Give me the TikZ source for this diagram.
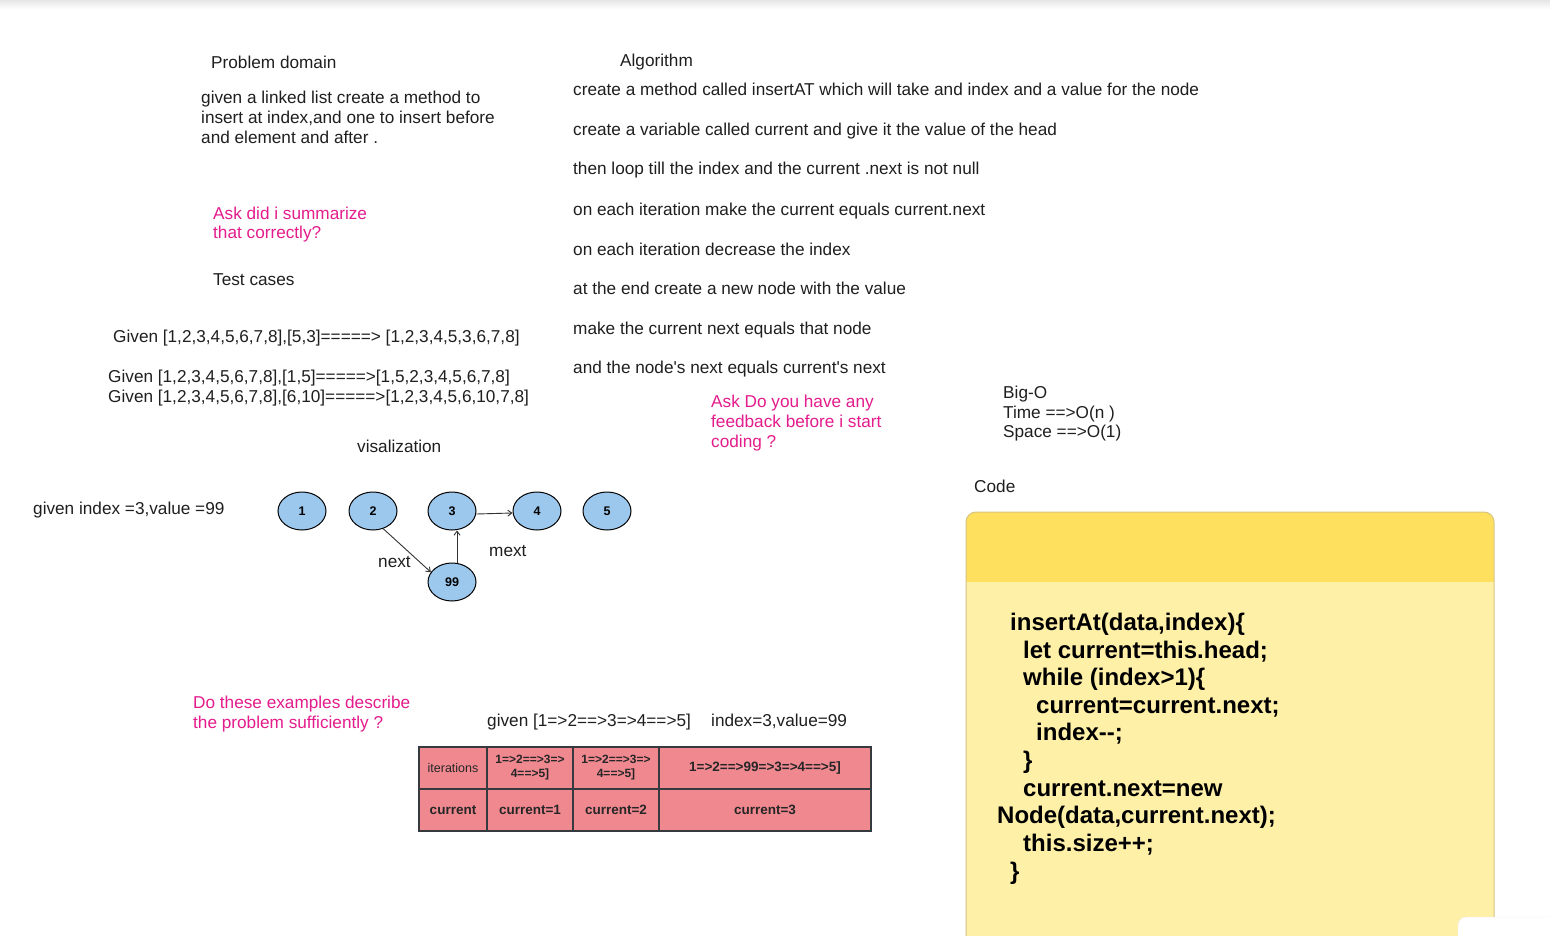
\documentclass[tikz,border=0pt]{standalone}
\usepackage{fontspec}
\setmainfont{Liberation Sans}[Ligatures=TeXOff]
\usetikzlibrary{shapes.geometric,arrows.meta}
\definecolor{txt}{HTML}{1F1F1F}
\definecolor{pinkt}{RGB}{228,28,140}
\definecolor{nodeblue}{RGB}{157,200,238}
\definecolor{cellred}{RGB}{240,136,144}
\definecolor{cellline}{HTML}{36393D}
\definecolor{hdr}{RGB}{255,224,94}
\definecolor{bdy}{RGB}{255,240,168}
\definecolor{bdr}{RGB}{214,196,130}
\tikzset{
  lbl/.style={anchor=base west, inner sep=0pt, text=txt, font=\fontsize{17.2}{20}\selectfont},
  plbl/.style={lbl, text=pinkt},
  codeline/.style={anchor=base west, inner sep=0pt, text=black, font=\fontsize{24}{27}\selectfont\bfseries},
  ll/.style={ellipse, draw=black, line width=1pt, fill=nodeblue, minimum width=48pt, minimum height=38pt, inner sep=0pt, font=\fontsize{12.5}{14}\selectfont\bfseries},
  cell/.style={draw=cellline, line width=1.3pt, fill=cellred, minimum height=42pt, inner sep=0pt, align=center, text=black!85, font=\fontsize{13.5}{15}\selectfont\bfseries},
  smallcell/.style={cell, font=\fontsize{12}{14}\selectfont\bfseries},
  arr/.style={-{Straight Barb[length=4pt,width=6pt]}, line width=0.9pt, draw=black!80},
}
\begin{document}
\begin{tikzpicture}[x=1pt,y=-1pt]
\useasboundingbox (0,0) rectangle (1550,936);
\fill[white] (0,0) rectangle (1550,936);
\shade[top color=black!10, bottom color=white] (0,0) rectangle (1550,9);

% Problem domain
\node[lbl] (pd) at (211,69) {Problem domain};
\node[lbl] (pd1) at (201,104) {given a linked list create a method to};
\node[lbl] (pd2) at (201,124) {insert at index,and one to insert before};
\node[lbl] (pd3) at (201,144) {and element and after .};
\node[plbl] (ask1a) at (213,220) {Ask did i summarize};
\node[plbl] (ask1b) at (213,239) {that correctly?};
\node[lbl] (tc) at (213,285) {Test cases};
\node[lbl] (g1) at (113,342) {Given [1,2,3,4,5,6,7,8],[5,3]=====> [1,2,3,4,5,3,6,7,8]};
\node[lbl] (g2) at (108,382) {Given [1,2,3,4,5,6,7,8],[1,5]=====>[1,5,2,3,4,5,6,7,8]};
\node[lbl] (g3) at (108,402) {Given [1,2,3,4,5,6,7,8],[6,10]=====>[1,2,3,4,5,6,10,7,8]};
\node[lbl] (vis) at (357,452) {visalization};
\node[lbl] (gi) at (33,514) {given index =3,value =99};

% Algorithm
\node[lbl] (alg) at (620,67) {Algorithm};
\node[lbl] (a1) at (573,96) {create a method called insertAT which will take and index and a value for the node};
\node[lbl] (a2) at (573,136) {create a variable called current and give it the value of the head};
\node[lbl] (a3) at (573,175) {then loop till the index and the current .next is not null};
\node[lbl] (a4) at (573,215) {on each iteration make the current equals current.next};
\node[lbl] (a5) at (573,255) {on each iteration decrease the index};
\node[lbl] (a6) at (573,294) {at the end create a new node with the value};
\node[lbl] (a7) at (573,334) {make the current next equals that node};
\node[lbl] (a8) at (573,373) {and the node's next equals current's next};
\node[plbl] (ask2a) at (711,407) {Ask Do you have any};
\node[plbl] (ask2b) at (711,427) {feedback before i start};
\node[plbl] (ask2c) at (711,447) {coding ?};

% Big-O
\node[lbl] (bo1) at (1003,398) {Big-O};
\node[lbl] (bo2) at (1003,418) {Time ==>O(n )};
\node[lbl] (bo3) at (1003,437) {Space ==>O(1)};
\node[lbl] (codet) at (974,492) {Code};

% linked list
\node[ll] (n1) at (302,511) {1};
\node[ll] (n2) at (373,511) {2};
\node[ll] (n3) at (452,511) {3};
\node[ll] (n4) at (537,511) {4};
\node[ll] (n5) at (607,511) {5};
\node[ll] (n99) at (452,582) {99};
\draw[arr] ([yshift=-3pt]n3.east) -- ([yshift=-2pt]n4.west);
\draw[arr] (n2.-60) -- (n99.155);
\draw[arr] ([xshift=5pt]n99.north) -- ([xshift=5pt]n3.south);
\node[lbl] (nxt) at (378,567) {next};
\node[lbl] (mxt) at (489,556) {mext};

% bottom left
\node[plbl] (ask3a) at (193,708) {Do these examples describe};
\node[plbl] (ask3b) at (193,728) {the problem sufficiently ?};
\node[lbl] (gv2) at (487,726) {given [1=>2==>3=>4==>5]};
\node[lbl] (idx) at (711,726) {index=3,value=99};

% table
\node[cell, minimum width=68pt, font=\fontsize{12.5}{14}\selectfont] (t11) at (453,768) {iterations};
\node[smallcell, minimum width=86pt] (t12) at (530,768) {1=>2==>3=>\\4==>5]};
\node[smallcell, minimum width=86pt] (t13) at (616,768) {1=>2==>3=>\\4==>5]};
\node[cell, minimum width=212pt] (t14) at (765,768) {1=>2==>99=>3=>4==>5]};
\node[cell, minimum width=68pt] (t21) at (453,810) {current};
\node[cell, minimum width=86pt] (t22) at (530,810) {current=1};
\node[cell, minimum width=86pt] (t23) at (616,810) {current=2};
\node[cell, minimum width=212pt] (t24) at (765,810) {current=3};

% code box
\begin{scope}
  \clip[rounded corners=10pt] (966,512) rectangle (1494,1000);
  \fill[bdy] (966,512) rectangle (1494,1000);
  \fill[hdr] (966,512) rectangle (1494,582);
\end{scope}
\draw[bdr, line width=1pt, rounded corners=10pt] (966,512) rectangle (1494,1000);
\node[codeline] (c1) at (1010,630) {insertAt(data,index)\{};
\node[codeline] (c2) at (1023,658) {let current=this.head;};
\node[codeline] (c3) at (1023,685) {while (index>1)\{};
\node[codeline] (c4) at (1036,713) {current=current.next;};
\node[codeline] (c5) at (1036,740) {index--;};
\node[codeline] (c6) at (1023,768) {\}};
\node[codeline] (c7) at (1023,796) {current.next=new};
\node[codeline] (c8) at (997,823) {Node(data,current.next);};
\node[codeline] (c9) at (1023,851) {this.size++;};
\node[codeline] (c10) at (1010,879) {\}};

% viewer widget corner
\filldraw[fill=white, draw=black!8, rounded corners=8pt] (1458,917) rectangle (1590,990);
\end{tikzpicture}
\end{document}
